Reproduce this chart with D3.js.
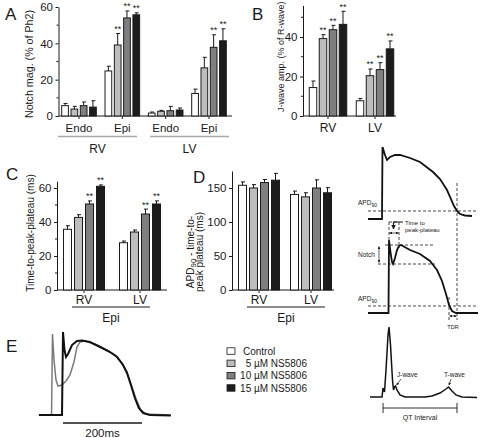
<!DOCTYPE html>
<html><head><meta charset="utf-8">
<script src="https://cdn.jsdelivr.net/npm/d3@7"></script>
<style>
html,body{margin:0;padding:0;background:#fff;}
svg{display:block;font-family:"Liberation Sans",Arial,Helvetica,sans-serif;}
</style></head><body>
<svg id="chart" width="480" height="438"></svg>
<script>
// ---------- DATA ----------
const concentrations = ["Control", "5 µM NS5806", "10 µM NS5806", "15 µM NS5806"];
const barColors = ["#ffffff", "#bdbdbd", "#7f7f7f", "#1c1c1c"];

// Panel A: Notch magnitude (% of Ph2)
const notchLayers = ["Endo", "Epi", "Endo", "Epi"];
const notchRegions = ["RV", "LV"];
const notchMean = [[5.7, 3.8, 5.7, 4.9], [24.8, 39.1, 54.0, 55.7], [1.6, 2.6, 2.9, 3.3], [12.4, 26.5, 37.8, 41.4]];
const notchErr  = [[1.2, 1.5, 2.0, 3.5], [2.6, 6.3, 3.8, 1.1], [0.6, 0.5, 2.4, 1.1], [2.4, 5.8, 6.9, 6.6]];
const notchSig  = [[0, 0, 0, 0], [0, 1, 1, 1], [0, 0, 0, 0], [0, 0, 1, 1]];
const notchTicks = [0, 20, 40, 60];

// Panel B: J-wave amplitude (% of R-wave)
const jwaveGroups = ["RV", "LV"];
const jwaveMean = [[14.4, 39.2, 43.7, 46.4], [7.7, 20.4, 23.5, 34.0]];
const jwaveErr  = [[3.3, 2.0, 2.2, 6.6], [1.2, 3.4, 3.5, 4.0]];
const jwaveSig  = [[0, 1, 1, 1], [0, 1, 1, 1]];
const jwaveTicks = [0, 20, 40];

// Panel C: Time-to-peak-plateau (ms)
const ttpGroups = ["RV", "LV"];
const ttpMean = [[35.7, 42.7, 50.6, 61.0], [27.8, 34.1, 44.7, 50.6]];
const ttpErr  = [[2.1, 1.6, 1.8, 0.8], [1.0, 1.2, 2.9, 1.8]];
const ttpSig  = [[0, 0, 1, 1], [0, 0, 1, 1]];
const ttpTicks = [0, 20, 40, 60];

// Panel D: APD90 - time-to-peak plateau (ms)
const apdGroups = ["RV", "LV"];
const apdMean = [[154.0, 150.0, 158.0, 161.5], [140.5, 137.0, 150.0, 143.0]];
const apdErr  = [[5.0, 5.0, 4.5, 10.0], [5.0, 6.0, 12.0, 7.5]];
const apdSig  = [[0, 0, 0, 0], [0, 0, 0, 0]];
const apdTicks = [0, 50, 100, 150];

// Panel E: Epi action potentials [time ms, mV]
const traceControl = [[-61,-85],[-2.5,-85],[0,40],[3.8,12.9],[7.6,2.3],[12.7,6.9],[22.8,20.4],[35.4,26.4],[48,27.2],[68,24.9],[94,17.4],[119,9.9],[137,2.3],[152,-9.7],[162,-21.7],[172,-39.8],[182,-59.4],[192,-74.5],[203,-82],[220,-85],[273,-85.7]];
const traceDrug = [[-61,-85],[-29,-85],[-26.6,37],[-22.8,-2.2],[-17.7,-32.3],[-12.7,-41.3],[-2.5,-39.8],[7.6,-33.8],[17.7,-24.8],[27.8,-5.2],[35.4,17.4],[43,25],[55.7,26.4],[81,22],[106,14.4],[132,5.4],[149,-6.7],[162,-20.2],[172,-38.3],[185,-61],[197,-77.5],[210,-83.5],[273,-85]];
const scaleBarMs = 200;

// Schematic (right column)
const apTop = [[0,-85],[28,-85],[29,40],[34,26],[38,17.4],[44,22.6],[54,26.1],[64,26.1],[84,20.9],[104,14],[130,-3.4],[144,-15.6],[158,-34.7],[166,-50.3],[172,-62.4],[178,-71.1],[184,-76.3],[194,-78.9],[208,-79.8]];
const apBottom = [[0,-85],[41,-85],[42,40],[45,19.4],[48,2.3],[50,-1.1],[54,9.2],[58,22.9],[62,29.7],[66,31.4],[84,22.9],[104,16],[124,4],[138,-11.4],[148,-30.2],[156,-52.5],[162,-71.3],[168,-81.6],[176,-85],[220,-85]];
const ecgTrace = [[4,0],[28,0],[30,0.129],[33,0.071],[36,0.386],[40,0.886],[42,1.0],[45,0.743],[49,0.243],[51,0.1],[53,0.143],[55,0.157],[58,0.1],[64,0.029],[74,0],[114,0],[128,0.014],[144,0.057],[156,0.114],[161,0.143],[168,0.086],[176,0.029],[188,0],[218,-0.007]];

// ---------- DRAW ----------
const svg = d3.select("#chart");
const FONT = '"Liberation Sans",Arial,Helvetica,sans-serif';
const ink = "#1a1a1a";

svg.append("defs").append("marker")
  .attr("id", "arr").attr("viewBox", "0 0 10 10").attr("refX", 9).attr("refY", 5)
  .attr("markerWidth", 4).attr("markerHeight", 4).attr("orient", "auto-start-reverse")
  .append("path").attr("d", "M0,0 L10,5 L0,10 z").attr("fill", ink);

function text(x, y, s, size, anchor, extra) {
  const t = svg.append("text").attr("x", x).attr("y", y).text(s)
    .attr("font-size", size).attr("text-anchor", anchor || "start").attr("fill", ink);
  if (extra) extra(t);
  return t;
}

function barPanel(cfg) {
  const g = svg.append("g");
  const y = d3.scaleLinear().domain([0, cfg.yMax]).range([cfg.yBottom, cfg.yTopPx]);
  const gx = d3.scalePoint().domain(d3.range(cfg.means.length)).range(cfg.centers);
  const p = 1 - cfg.barW / cfg.step;
  const bx = d3.scaleBand().domain(concentrations).range([-2 * cfg.step, 2 * cfg.step])
    .paddingInner(p).paddingOuter(p / 2);
  const ax = d3.axisLeft(y).tickValues(cfg.ticks).tickSize(3).tickSizeOuter(0).tickPadding(2.5).tickFormat(d3.format("d"));
  const ag = g.append("g").attr("transform", `translate(${cfg.axisX},0)`).call(ax);
  ag.select(".domain").attr("stroke", ink);
  ag.selectAll(".tick line").attr("stroke", ink);
  ag.selectAll("text").attr("font-size", 11.5).attr("font-family", FONT).attr("fill", ink);
  if (cfg.minor) {
    g.selectAll(".minor").data(cfg.minor).join("line")
      .attr("x1", cfg.axisX - 2).attr("x2", cfg.axisX).attr("y1", d => y(d)).attr("y2", d => y(d)).attr("stroke", ink);
  }
  g.append("line").attr("x1", cfg.axisX).attr("x2", cfg.axisEnd).attr("y1", y(0)).attr("y2", y(0))
    .attr("stroke", ink).attr("stroke-width", 1);
  g.selectAll(".gt").data(cfg.means).join("line")
    .attr("x1", (d, i) => gx(i)).attr("x2", (d, i) => gx(i))
    .attr("y1", y(0)).attr("y2", y(0) + 3).attr("stroke", ink);
  cfg.means.forEach((row, i) => {
    row.forEach((m, j) => {
      const x0 = gx(i) + bx(concentrations[j]);
      const cx = x0 + bx.bandwidth() / 2;
      const top = y(m + cfg.errs[i][j]);
      g.append("line").attr("x1", cx).attr("x2", cx).attr("y1", y(m)).attr("y2", top).attr("stroke", ink);
      g.append("line").attr("x1", cx - 1.5).attr("x2", cx + 2.5).attr("y1", top).attr("y2", top).attr("stroke", ink);
      g.append("rect").attr("x", x0).attr("y", y(m)).attr("width", bx.bandwidth()).attr("height", y(0) - y(m))
        .attr("fill", barColors[j]).attr("stroke", ink).attr("stroke-width", 1);
      if (cfg.sig[i][j]) {
        g.append("text").attr("x", cx).attr("y", top - 1.5).attr("text-anchor", "middle")
          .attr("font-size", 9).attr("fill", ink).text("**");
      }
    });
  });
  return { y, gx };
}

// Panel A
const A = barPanel({ means: notchMean, errs: notchErr, sig: notchSig, yMax: 60, yBottom: 116, yTopPx: 7,
  axisX: 58.5, axisEnd: 232, centers: [79, 209], step: 9.3, barW: 6.7, ticks: notchTicks, minor: [10, 30, 50] });
notchLayers.forEach((s, i) => text(A.gx(i), 132, s, 11.5, "middle"));
[[58, 137], [150, 229]].forEach(([a, b], i) => {
  svg.append("line").attr("x1", a).attr("x2", b).attr("y1", 136.5).attr("y2", 136.5).attr("stroke", "#a8a8a8").attr("stroke-width", 1.6);
  text((a + b) / 2, 153, notchRegions[i], 12, "middle");
});
text(32.5, 64, "Notch mag. (% of Ph2)", 10.7, "middle", t => t.attr("transform", "rotate(-90,32.5,64)"));
text(5, 20, "A", 17, "start");

// Panel B
const B = barPanel({ means: jwaveMean, errs: jwaveErr, sig: jwaveSig, yMax: 56, yBottom: 116, yTopPx: 5.4,
  axisX: 303, axisEnd: 396, centers: [328, 375], step: 10, barW: 7.5, ticks: jwaveTicks, minor: [10, 30, 50] });
jwaveGroups.forEach((s, i) => text(B.gx(i), 132, s, 12, "middle"));
text(283.5, 112, "J-wave amp. (% of R-wave)", 9, "start", t => t.attr("transform", "rotate(-90,283.5,112)"));
text(252, 20, "B", 17, "start");

// Panel C
const C = barPanel({ means: ttpMean, errs: ttpErr, sig: ttpSig, yMax: 64, yBottom: 290, yTopPx: 181.2,
  axisX: 57, axisEnd: 167, centers: [84, 140], step: 11, barW: 8, ticks: ttpTicks, minor: [10, 30, 50] });
ttpGroups.forEach((s, i) => text(C.gx(i), 304, s, 12, "middle"));
svg.append("line").attr("x1", 72).attr("x2", 150).attr("y1", 307).attr("y2", 307).attr("stroke", ink);
text(111, 322, "Epi", 12, "middle");
text(34, 233, "Time-to-peak-plateau (ms)", 10, "middle", t => t.attr("transform", "rotate(-90,34,233)"));
text(6, 180, "C", 17, "start");

// Panel D
const D = barPanel({ means: apdMean, errs: apdErr, sig: apdSig, yMax: 175, yBottom: 290, yTopPx: 171,
  axisX: 232, axisEnd: 334, centers: [259, 311], step: 11, barW: 8, ticks: apdTicks, minor: null });
apdGroups.forEach((s, i) => text(D.gx(i), 304, s, 12, "middle"));
svg.append("line").attr("x1", 247).attr("x2", 325).attr("y1", 307).attr("y2", 307).attr("stroke", ink);
text(286, 322, "Epi", 12, "middle");
text(194, 252, "", 10, "middle", t => {
  t.attr("transform", "rotate(-90,194,252)");
  t.append("tspan").text("APD");
  t.append("tspan").attr("font-size", 8).attr("dy", 2).text("90");
  t.append("tspan").attr("dy", -2).text(" - time-to-");
});
text(203, 252, "peak plateau (ms)", 10, "middle", t => t.attr("transform", "rotate(-90,203,252)"));
text(193, 183, "D", 17, "start");

// Panel E traces
const xE = d3.scaleLinear().domain([0, 200]).range([63, 142]);
const yE = d3.scaleLinear().domain([-85, 40]).range([415, 332]);
const lineE = d3.line().x(d => xE(d[0])).y(d => yE(d[1]));
svg.append("path").datum(traceDrug).attr("d", lineE).attr("fill", "none").attr("stroke", "#7a7a7a").attr("stroke-width", 1.5);
svg.append("path").datum(traceControl).attr("d", lineE).attr("fill", "none").attr("stroke", "#111").attr("stroke-width", 2);
svg.append("line").attr("x1", xE(0)).attr("x2", xE(scaleBarMs)).attr("y1", 423).attr("y2", 423).attr("stroke", ink).attr("stroke-width", 1.3);
text((xE(0) + xE(scaleBarMs)) / 2, 437, scaleBarMs + "ms", 11.5, "middle");
text(6, 352, "E", 17, "start");

// Legend
concentrations.forEach((c, i) => {
  const cy = 351 + i * 12.3;
  svg.append("rect").attr("x", 227).attr("y", cy - 3.2).attr("width", 8).attr("height", 6.5)
    .attr("fill", barColors[i]).attr("stroke", ink).attr("stroke-width", 0.8);
  if (i === 0) text(243, cy + 3.8, c, 10, "start");
  else text(307, cy + 3.8, c, 10, "end");
});

// Schematic
const xS = d3.scaleLinear().domain([0, 220]).range([368, 478]);
const yT = d3.scaleLinear().domain([-85, 40]).range([219, 147]);
const yB = d3.scaleLinear().domain([-85, 40]).range([313, 240]);
const yG = d3.scaleLinear().domain([0, 1]).range([397, 327]);
const dash = (x1, y1, x2, y2) => svg.append("line").attr("x1", x1).attr("y1", y1).attr("x2", x2).attr("y2", y2)
  .attr("stroke", ink).attr("stroke-width", 0.8).attr("stroke-dasharray", "3,2");
const arrowLine = (x1, y1, x2, y2, both) => {
  const l = svg.append("line").attr("x1", x1).attr("y1", y1).attr("x2", x2).attr("y2", y2)
    .attr("stroke", ink).attr("stroke-width", 0.7).attr("marker-end", "url(#arr)");
  if (both) l.attr("marker-start", "url(#arr)");
  return l;
};

svg.append("path").datum(apTop).attr("d", d3.line().x(d => xS(d[0])).y(d => yT(d[1])))
  .attr("fill", "none").attr("stroke", "#111").attr("stroke-width", 1.8);
svg.append("path").datum(apBottom).attr("d", d3.line().x(d => xS(d[0])).y(d => yB(d[1])))
  .attr("fill", "none").attr("stroke", "#111").attr("stroke-width", 1.8);
svg.append("path").datum(ecgTrace).attr("d", d3.line().x(d => xS(d[0])).y(d => yG(d[1])))
  .attr("fill", "none").attr("stroke", "#111").attr("stroke-width", 1.5);

dash(xS(0), yT(-71.1), xS(220), yT(-71.1));
dash(xS(178), 183, xS(178), 320);
dash(xS(0), yB(-73), xS(220), yB(-73));
dash(xS(162), 297, xS(162), 320);
text(358, 205, "", 6.5, "start", t => { t.append("tspan").text("APD"); t.append("tspan").attr("font-size", 5).attr("dy", 2).text("90"); });
text(358, 301, "", 6.5, "start", t => { t.append("tspan").text("APD"); t.append("tspan").attr("font-size", 5).attr("dy", 2).text("90"); });
arrowLine(xS(162) + 0.5, 316, xS(178) - 0.5, 316, true);
text((xS(162) + xS(178)) / 2, 329, "TDR", 5.5, "middle");
dash(xS(34), yB(31.4), xS(134), yB(31.4));
dash(xS(20), yB(-1.1), xS(134), yB(-1.1));
arrowLine(379, yB(31.4) + 1.5, 379, yB(-1.1) - 1.5, true);
text(358, 257, "Notch", 6.5, "start");
dash(xS(42), 222, xS(42), 248);
dash(xS(62), 222, xS(62), 248);
dash(xS(42), 222, xS(62), 222);
arrowLine(xS(42) + 0.5, 233, xS(62) - 0.5, 233, true);
svg.append("path").attr("d", "M403,222 H393.5 V229").attr("fill", "none").attr("stroke", ink)
  .attr("stroke-width", 1.2).attr("marker-end", "url(#arr)");
text(405, 225, "Time to", 6, "start");
text(405, 232, "peak-plateau", 6, "start");
text(397, 377, "J-wave", 6.5, "start");
arrowLine(401, 379, 396.5, 385);
text(444, 377, "T-wave", 6.5, "start");
arrowLine(451, 379, 449, 385);
svg.append("line").attr("x1", xS(30)).attr("x2", xS(178)).attr("y1", 408).attr("y2", 408).attr("stroke", ink).attr("stroke-width", 0.9);
[30, 178].forEach(t => svg.append("line").attr("x1", xS(t)).attr("x2", xS(t)).attr("y1", 403).attr("y2", 413).attr("stroke", ink).attr("stroke-width", 0.9));
text((xS(30) + xS(178)) / 2, 419.5, "QT Interval", 7, "middle");
</script>
</body></html>
